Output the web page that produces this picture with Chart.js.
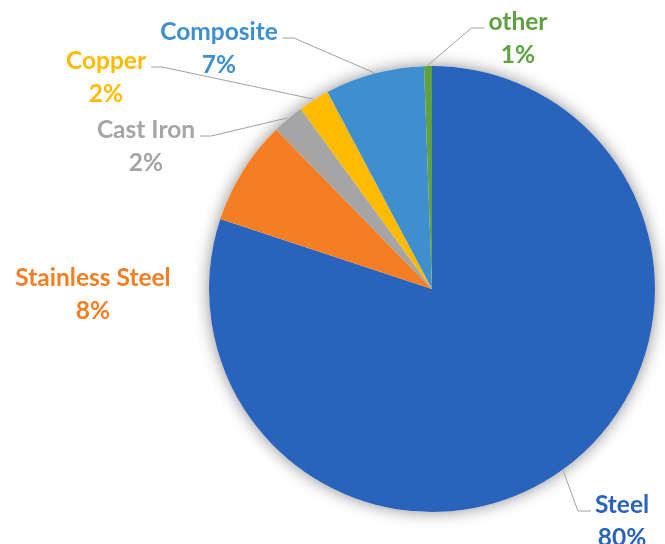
<!DOCTYPE html>
<html>
<head>
<meta charset="utf-8">
<title>Materials</title>
<script src="https://cdn.jsdelivr.net/npm/chart.js@4/dist/chart.umd.min.js"></script>
<style>
  html, body { margin: 0; padding: 0; background: #fff; }
  #wrap { width: 665px; height: 544px; position: relative; }
</style>
</head>
<body>
<div id="wrap"><canvas id="pie-chart"></canvas></div>
<script>
// material shares (percent)
const materials = ["Steel", "Stainless Steel", "Cast Iron", "Copper", "Composite", "other"];
const shares = [80.1, 7.6, 2.3, 2.25, 7.2, 0.57];
const colors = ["#2a63bb", "#f37e24", "#a5a5a5", "#ffbb00", "#3f8fcf", "#5fa043"];

// where each label's first line sits, and which side its leader comes from
const labelAt = [
  { x: 622, y: 505, side: "left" },
  { x: 93, y: 278, side: null },
  { x: 146, y: 130, side: "right" },
  { x: 106, y: 61, side: "right" },
  { x: 219, y: 32, side: "right" },
  { x: 518, y: 22, side: "left" }
];

const labelFont = "bold 24.5px Lato";
const lineGap = 33;

// soft halo behind the pie
const pieShadow = {
  id: "pieShadow",
  beforeDatasetsDraw(chart) {
    const arc = chart.getDatasetMeta(0).data[0];
    if (!arc) return;
    const ctx = chart.ctx;
    ctx.save();
    ctx.shadowColor = "rgba(0,0,0,0.45)";
    ctx.shadowBlur = 16;
    ctx.fillStyle = "#fff";
    ctx.beginPath();
    ctx.arc(arc.x, arc.y, arc.outerRadius, 0, Math.PI * 2);
    ctx.fill();
    ctx.restore();
  }
};

// outside labels with leader lines
const outsideLabels = {
  id: "outsideLabels",
  afterDatasetsDraw(chart) {
    const ctx = chart.ctx;
    const ds = chart.data.datasets[0];
    const total = ds.data.reduce((a, b) => a + b, 0);
    const arcs = chart.getDatasetMeta(0).data;
    ctx.save();
    ctx.font = labelFont;
    ctx.textAlign = "center";
    ctx.textBaseline = "middle";
    arcs.forEach((arc, i) => {
      const pos = labelAt[i];
      const name = chart.data.labels[i];
      const pct = Math.round(ds.data[i] / total * 100) + "%";
      if (pos.side) {
        const mid = (arc.startAngle + arc.endAngle) / 2;
        const ax = arc.x + Math.cos(mid) * (arc.outerRadius + 1);
        const ay = arc.y + Math.sin(mid) * (arc.outerRadius + 1);
        const w = ctx.measureText(name).width;
        const ly = pos.y + 6;
        let x0, x1;
        if (pos.side === "right") {
          x0 = pos.x + w / 2 + 5;
          x1 = x0 + 11;
        } else {
          x0 = pos.x - w / 2 - 4;
          x1 = x0 - 13;
        }
        ctx.strokeStyle = "#a0a0a0";
        ctx.lineWidth = 1;
        ctx.beginPath();
        ctx.moveTo(x0, ly);
        ctx.lineTo(x1, ly);
        ctx.lineTo(ax, ay);
        ctx.stroke();
      }
      ctx.fillStyle = colors[i];
      ctx.fillText(name, pos.x, pos.y);
      ctx.fillText(pct, pos.x, pos.y + lineGap);
    });
    ctx.restore();
  }
};

const chart = new Chart(document.getElementById("pie-chart"), {
  type: "pie",
  data: {
    labels: materials,
    datasets: [{
      data: shares,
      backgroundColor: colors,
      borderWidth: 0
    }]
  },
  options: {
    responsive: true,
    maintainAspectRatio: false,
    animation: false,
    layout: { padding: { left: 209, right: 10, top: 66, bottom: 32 } },
    plugins: {
      legend: { display: false },
      tooltip: { enabled: false }
    }
  },
  plugins: [pieShadow, outsideLabels]
});
</script>
</body>
</html>
